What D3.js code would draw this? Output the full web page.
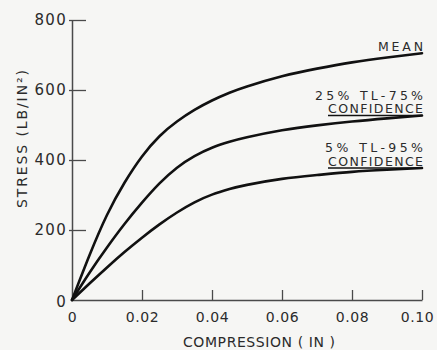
<!DOCTYPE html>
<html>
<head>
<meta charset="utf-8">
<script src="https://cdn.jsdelivr.net/npm/d3@7"></script>
<style>
  html, body { margin: 0; padding: 0; background: #f6f6f4; }
  svg { display: block; }
  text { font-family: "DejaVu Sans", sans-serif; fill: #2b2b2b; }
</style>
</head>
<body>
<svg id="chart" width="437" height="350"></svg>
<script>
// ---- data ----
const compression = [0, 0.005, 0.01, 0.015, 0.02, 0.025, 0.03, 0.035, 0.04, 0.045, 0.05, 0.06, 0.07, 0.08, 0.09, 0.10];
const meanStress  = [0, 128, 243, 335, 410, 468, 510, 543, 570, 592, 610, 639, 661, 679, 693, 705];
const tl25Stress  = [0, 78, 150, 217, 278, 333, 378, 411, 435, 452, 465, 485, 499, 510, 519, 527];
const tl5Stress   = [0, 47, 93, 137, 178, 216, 250, 279, 301, 317, 329, 346, 357, 366, 372, 377];
const seriesNames = [["MEAN"], ["25% TL-75%", "CONFIDENCE"], ["5% TL-95%", "CONFIDENCE"]];
const xTicks = [0, 0.02, 0.04, 0.06, 0.08, 0.10];
const xTickLabels = ["0", "0.02", "0.04", "0.06", "0.08", "0.10"];
const yTicks = [0, 200, 400, 600, 800];
const yTickLabels = ["0", "200", "400", "600", "800"];
const xTitle = "COMPRESSION ( IN )";
const yTitle = "STRESS (LB/IN²)";

// ---- layout ----
const svg = d3.select("#chart");
const x = d3.scaleLinear().domain([0, 0.10]).range([72, 422]);
const y = d3.scaleLinear().domain([0, 800]).range([300, 20]);

// axes
const yAxis = d3.axisLeft(y)
  .tickValues(yTicks)
  .tickFormat((d, i) => yTickLabels[i])
  .tickSizeInner(-14).tickSizeOuter(0).tickPadding(5);
const gy = svg.append("g").attr("transform", `translate(${x(0)},0)`).call(yAxis);
gy.select(".domain").attr("stroke", "#4a4a4a").attr("stroke-width", 1.5);
gy.selectAll(".tick line").attr("stroke", "#4a4a4a").attr("stroke-width", 1.3).attr("x1", -3);
gy.selectAll(".tick text")
  .attr("font-size", 15).attr("letter-spacing", 1.3).attr("fill", "#2b2b2b")
  .attr("font-family", "DejaVu Sans, sans-serif");
gy.selectAll(".tick").filter(d => d === 0).select("line").remove();
gy.selectAll(".tick").filter(d => d === 0).select("text").attr("dy", "0.45em");

const xAxis = d3.axisBottom(x)
  .tickValues(xTicks)
  .tickFormat((d, i) => xTickLabels[i])
  .tickSizeInner(-10).tickSizeOuter(0).tickPadding(12);
const gx = svg.append("g").attr("transform", `translate(0,${y(0)})`).call(xAxis);
gx.select(".domain").attr("stroke", "#4a4a4a").attr("stroke-width", 1.5);
gx.selectAll(".tick line").attr("stroke", "#4a4a4a").attr("stroke-width", 1.3);
gx.selectAll(".tick").filter(d => d === 0).select("line").remove();
gx.selectAll(".tick text")
  .attr("font-size", 14).attr("letter-spacing", 0.6).attr("fill", "#2b2b2b")
  .attr("font-family", "DejaVu Sans, sans-serif");
gx.selectAll(".tick").filter(d => d === 0.10).select("text").attr("dx", -5);

// titles
svg.append("text")
  .attr("x", 259).attr("y", 347)
  .attr("text-anchor", "middle")
  .attr("font-size", 14)
  .attr("textLength", 152).attr("lengthAdjust", "spacing")
  .text(xTitle);
svg.append("text")
  .attr("transform", "translate(27,139) rotate(-90)")
  .attr("text-anchor", "middle")
  .attr("font-size", 14)
  .attr("textLength", 138).attr("lengthAdjust", "spacing")
  .text(yTitle);

// curves
const series = [meanStress, tl25Stress, tl5Stress];
const line = d3.line()
  .x((d, i) => x(compression[i]))
  .y(d => y(d))
  .curve(d3.curveNatural);
svg.append("g").selectAll("path")
  .data(series).join("path")
  .attr("d", d => line(d))
  .attr("fill", "none")
  .attr("stroke", "#111")
  .attr("stroke-width", 2.6)
  .attr("stroke-linecap", "round");

// labels at curve ends
const labelWidths = [[45], [108, 95], [98, 95]];
const xEnd = x(compression[compression.length - 1]);
series.forEach((s, si) => {
  const yEnd = y(s[s.length - 1]);
  const lines = seriesNames[si];
  lines.forEach((txt, li) => {
    const base = yEnd - 2.5 - (lines.length - 1 - li) * 13.5;
    svg.append("text")
      .attr("x", xEnd + 1).attr("y", base)
      .attr("text-anchor", "end")
      .attr("font-size", 12.5)
      .attr("textLength", labelWidths[si][li]).attr("lengthAdjust", "spacing")
      .text(txt);
  });
  if (lines.length > 1) {
    svg.append("line")
      .attr("x1", xEnd - labelWidths[si][lines.length - 1] + 1).attr("x2", xEnd)
      .attr("y1", yEnd).attr("y2", yEnd)
      .attr("stroke", "#111").attr("stroke-width", 1.6);
  }
});
</script>
</body>
</html>
